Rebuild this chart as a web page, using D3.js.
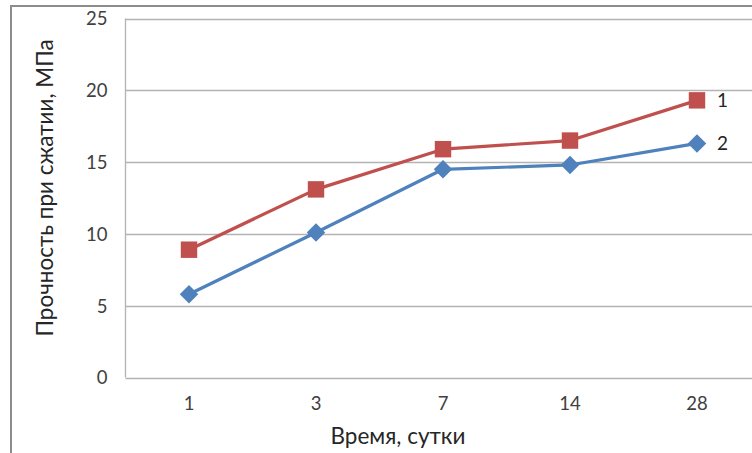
<!DOCTYPE html>
<html><head><meta charset="utf-8">
<script src="https://cdn.jsdelivr.net/npm/d3@7"></script>
<style>html,body{margin:0;padding:0;background:#fff;overflow:hidden}</style>
</head><body>
<svg id="c" width="752" height="453"></svg>
<script>
const categories = ["1", "3", "7", "14", "28"];
const series1 = [8.9, 13.1, 15.9, 16.5, 19.3];
const series2 = [5.8, 10.1, 14.5, 14.8, 16.3];
const seriesNames = ["1", "2"];
const yTicks = [0, 5, 10, 15, 20, 25];

(function () {
const svg = d3.select("#c");
const font = "Lato, 'Open Sans', sans-serif";
const pLeft = 125.5, pTop = 18.5, pBottom = 377.5, pRight = 760.5;

// outer frame
svg.append("rect").attr("x", 11).attr("y", 6).attr("width", 800).attr("height", 500)
  .attr("fill", "none").attr("stroke", "#8c8c8c").attr("stroke-width", 2);

const x = d3.scaleBand().domain(categories).range([pLeft, pRight]);
const y = d3.scaleLinear().domain([0, 25]).range([pBottom, pTop]);

// gridlines
svg.append("g").selectAll("line").data(yTicks).join("line")
  .attr("x1", pLeft).attr("x2", pRight)
  .attr("y1", d => Math.round(y(d)) + 0.5).attr("y2", d => Math.round(y(d)) + 0.5)
  .attr("stroke", "#b3b3b3").attr("stroke-width", 1.3);
svg.append("line").attr("x1", pLeft).attr("x2", pLeft).attr("y1", pTop).attr("y2", pBottom)
  .attr("stroke", "#b3b3b3").attr("stroke-width", 1.3);

// y axis labels
const yAxis = d3.axisLeft(y).tickValues(yTicks).tickSize(0).tickPadding(0);
const gy = svg.append("g").attr("transform", `translate(${pLeft - 18},0)`).call(yAxis);
gy.select(".domain").remove();
gy.selectAll("text").attr("font-family", font).attr("font-size", 18.5).attr("fill", "#404040").attr("dy", "0.35em");

// x axis labels
const xAxis = d3.axisBottom(x).tickSize(0).tickPadding(0);
const gx = svg.append("g").attr("transform", `translate(0,${pBottom + 19})`).call(xAxis);
gx.select(".domain").remove();
gx.selectAll("text").attr("font-family", font).attr("font-size", 18.5).attr("fill", "#404040").attr("dy", "0.71em");

// titles
svg.append("text").attr("x", 398).attr("y", 444).attr("text-anchor", "middle")
  .attr("font-family", font).attr("font-size", 22.5).attr("fill", "#262626").text("Время, сутки");
svg.append("text").attr("transform", "translate(53,188) rotate(-90)").attr("text-anchor", "middle")
  .attr("font-family", font).attr("font-size", 22.5).attr("fill", "#262626").text("Прочность при сжатии, МПа");

const cx = d => x(d) + x.bandwidth() / 2;
const line = d3.line().x((d, i) => cx(categories[i])).y(d => y(d));

const defs = [
  {data: series1, color: "#C0504D", shape: d3.symbolSquare, size: 270, name: seriesNames[0], rot: 0},
  {data: series2, color: "#4F81BD", shape: d3.symbolSquare, size: 170, name: seriesNames[1], rot: 45}
];
defs.forEach(s => {
  svg.append("path").datum(s.data).attr("d", line).attr("fill", "none")
    .attr("stroke", s.color).attr("stroke-width", 3.2).attr("stroke-linejoin", "round");
  svg.append("g").selectAll("path").data(s.data).join("path")
    .attr("d", d3.symbol().type(s.shape).size(s.size))
    .attr("transform", (d, i) => `translate(${cx(categories[i])},${y(d)}) rotate(${s.rot})`)
    .attr("fill", s.color);
  const last = s.data[s.data.length - 1];
  svg.append("text").attr("x", cx(categories[categories.length - 1]) + 20).attr("y", y(last))
    .attr("dy", "0.35em").attr("font-family", font).attr("font-size", 19).attr("fill", "#262626").text(s.name);
});
})();
</script>
</body></html>
